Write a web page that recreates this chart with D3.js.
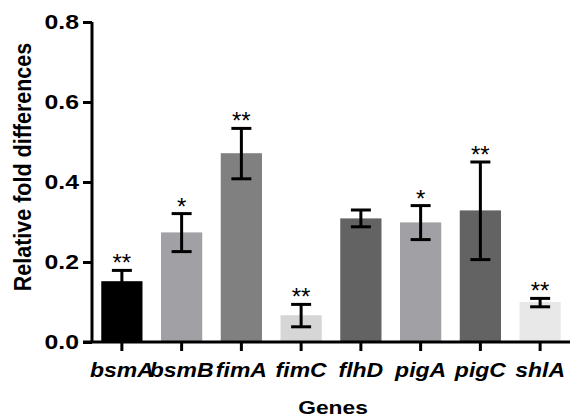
<!DOCTYPE html>
<html><head><meta charset="utf-8">
<script src="https://cdn.jsdelivr.net/npm/d3@7"></script>
<style>body{margin:0;background:#fff}svg{display:block}</style>
</head><body>
<svg id="c" width="572" height="419"></svg>
<script>
const genes = ["bsmA","bsmB","fimA","fimC","flhD","pigA","pigC","shlA"];
const means = [0.152, 0.274, 0.472, 0.067, 0.309, 0.299, 0.329, 0.100];
const errUp = [0.179, 0.321, 0.534, 0.094, 0.330, 0.341, 0.450, 0.109];
const errLo = [0.126, 0.226, 0.408, 0.038, 0.288, 0.256, 0.206, 0.088];
const stars = ["**","*","**","**","","*","**","**"];
const colors = ["#000000","#a1a1a5","#808080","#d6d6d6","#636363","#a1a1a5","#636363","#e8e8e8"];
const yTicks = [0, 0.2, 0.4, 0.6, 0.8];

const FONT = "Liberation Sans, Arial, sans-serif";
const svg = d3.select("#c");
const mLeft = 92, mRight = 570, mTop = 22, mBottom = 342;
const x = d3.scaleBand().domain(genes).range([mLeft, mRight]).paddingInner(0.31).paddingOuter(0.155);
const y = d3.scaleLinear().domain([0, 0.8]).range([mBottom, mTop]);

const data = genes.map((g,i)=>({g, m:means[i], hi:errUp[i], lo:errLo[i], s:stars[i], c:colors[i]}));

svg.selectAll("rect.bar").data(data).join("rect").attr("class","bar")
  .attr("x", d=>x(d.g)).attr("width", x.bandwidth())
  .attr("y", d=>y(d.m)).attr("height", d=>y(0)-y(d.m)).attr("fill", d=>d.c);

const eb = svg.append("g").attr("stroke","#000").attr("stroke-width",3);
data.forEach(d=>{
  const cx = x(d.g)+x.bandwidth()/2;
  eb.append("line").attr("x1",cx).attr("x2",cx).attr("y1",y(d.hi)).attr("y2",y(d.lo));
  eb.append("line").attr("x1",cx-10).attr("x2",cx+10).attr("y1",y(d.hi)).attr("y2",y(d.hi));
  eb.append("line").attr("x1",cx-10).attr("x2",cx+10).attr("y1",y(d.lo)).attr("y2",y(d.lo));
});
svg.selectAll("text.star").data(data).join("text").attr("class","star")
  .attr("x", d=>x(d.g)+x.bandwidth()/2).attr("y", d=>y(d.hi)+1)
  .attr("text-anchor","middle").attr("font-family",FONT)
  .attr("font-size",24).text(d=>d.s);

// y axis
const ya = svg.append("g").attr("transform",`translate(${mLeft},0)`)
  .call(d3.axisLeft(y).tickValues(yTicks).tickFormat(d3.format(".1f")).tickSize(9).tickPadding(2));
ya.select(".domain").attr("stroke-width",3).attr("d",`M0,${y(0.8)}V${mBottom}`);
ya.selectAll(".tick line").attr("stroke-width",3);
ya.selectAll(".tick text").attr("font-family",FONT)
  .attr("font-weight","bold").attr("font-size",21).attr("fill","#000")
  .attr("transform","scale(1.18,1)");

// x axis
const xa = svg.append("g").attr("transform",`translate(0,${mBottom})`)
  .call(d3.axisBottom(x).tickSize(9).tickPadding(12));
xa.select(".domain").attr("stroke-width",3).attr("d",`M${mLeft-9},0H${mRight}`);
xa.selectAll(".tick line").attr("stroke-width",3);
xa.selectAll(".tick text").attr("font-family",FONT)
  .attr("font-weight","bold").attr("font-style","italic").attr("font-size",20).attr("fill","#000")
  .attr("transform","scale(1.15,1)");

svg.append("text").attr("transform","translate(31,167) scale(1.15,1) rotate(-90)")
  .attr("text-anchor","middle").attr("font-family",FONT)
  .attr("font-weight","bold").attr("font-size",21.5).text("Relative fold differences");
svg.append("text").attr("transform","translate(333,414) scale(1.2,1)")
  .attr("text-anchor","middle").attr("font-family",FONT)
  .attr("font-weight","bold").attr("font-size",19).text("Genes");
</script>
</body></html>
